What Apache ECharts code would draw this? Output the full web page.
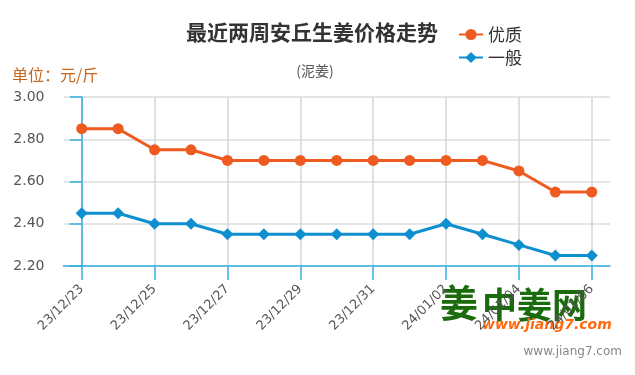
<!DOCTYPE html>
<html><head><meta charset="utf-8">
<script src="https://cdn.jsdelivr.net/npm/echarts@6/dist/echarts.min.js"></script>
<style>html,body{margin:0;padding:0;background:#fff}#c{width:635px;height:375px}</style>
</head><body><div id="c"></div>
<script>
const categories = ['23/12/23','23/12/24','23/12/25','23/12/26','23/12/27','23/12/28','23/12/29','23/12/30','23/12/31','24/01/01','24/01/02','24/01/03','24/01/04','24/01/05','24/01/06'];
const premium = [2.85,2.85,2.75,2.75,2.70,2.70,2.70,2.70,2.70,2.70,2.70,2.70,2.65,2.55,2.55];
const normal = [2.45,2.45,2.40,2.40,2.35,2.35,2.35,2.35,2.35,2.35,2.40,2.35,2.30,2.25,2.25];
const seriesNames = ['优质','一般'];
const yTicks = [2.2,2.4,2.6,2.8,3.0];
const labelIdx = [0,2,4,6,8,10,12,14];

const chart = echarts.init(document.getElementById('c'), null, {renderer:'canvas'});
const blue = '#35b0e0';
const cjk = '"Noto Sans CJK SC", sans-serif';
chart.setOption({
  animation:false,
  title:[
    {text:'最近两周安丘生姜价格走势', left:307, textAlign:'center', top:17,
     textStyle:{fontSize:21, fontWeight:'bold', color:'#333', fontFamily:cjk}},
    {text:'(泥姜)', left:310, textAlign:'center', top:59,
     textStyle:{fontSize:14, fontWeight:'normal', color:'#555', fontFamily:cjk}},
    {text:'单位：元/斤', left:7, top:62,
     textStyle:{fontSize:16, fontWeight:'normal', color:'#c8661e', fontFamily:cjk}}
  ],
  legend:{orient:'vertical', left:453, top:21, itemGap:6, itemWidth:24, itemHeight:14,
    textStyle:{fontSize:17, color:'#333', fontFamily:cjk}, data:seriesNames},
  grid:{left:63.5, right:25, top:97, bottom:109, containLabel:false},
  xAxis:{type:'value', min:-0.5, max:14.5,
    axisLine:{show:true, lineStyle:{color:blue, width:1.5}},
    axisTick:{show:true, customValues:labelIdx, length:14, lineStyle:{color:blue, width:1.5}},
    axisLabel:{customValues:labelIdx, rotate:45, margin:21, fontSize:13, color:'#555',
      fontFamily:'"DejaVu Sans", sans-serif', formatter:v=>categories[v]},
    splitLine:{show:true, lineStyle:{color:'#d6d6d6', width:1.5}}},
  yAxis:{type:'value', min:yTicks[0], max:yTicks[yTicks.length-1], interval:0.2,
    axisLine:{show:true, lineStyle:{color:blue, width:1.5}},
    axisTick:{show:true, length:12, lineStyle:{color:blue, width:1.5}},
    axisLabel:{margin:19, fontSize:14, color:'#555', fontFamily:'"DejaVu Sans", sans-serif',
      formatter:v=>v.toFixed(2)},
    splitLine:{show:true, lineStyle:{color:'#dcdcdc', width:1.5}}},
  graphic:[
    {type:'text', left:440, top:284, z:-1, style:{text:'姜', fontSize:38, fontWeight:'bold', fill:'#1a6b0c', fontFamily:cjk}},
    {type:'text', left:482, top:287, z:-1, style:{text:'中姜网', fontSize:35, fontWeight:'bold', fill:'#1a6b0c', fontFamily:cjk}},
    {type:'text', left:482, top:318, z:-1, style:{text:'www.jiang7.com', fontSize:14, fontWeight:'bold', fontStyle:'italic', fill:'#ff6a10', fontFamily:'"DejaVu Sans", sans-serif'}},
    {type:'text', right:13, top:346, z:-1, style:{text:'www.jiang7.com', fontSize:12, fill:'#888', fontFamily:'"DejaVu Sans", sans-serif'}}
  ],
  series:[
    {name:seriesNames[0], type:'line', data:premium.map((v,i)=>[i,v]), symbol:'circle', symbolSize:11,
     itemStyle:{color:'#ee5a1f'}, lineStyle:{width:3, color:'#ee5a1f'}},
    {name:seriesNames[1], type:'line', data:normal.map((v,i)=>[i,v]), symbol:'diamond', symbolSize:12,
     itemStyle:{color:'#0e8fcf'}, lineStyle:{width:3, color:'#0e8fcf'}}
  ]
});
</script></body></html>
